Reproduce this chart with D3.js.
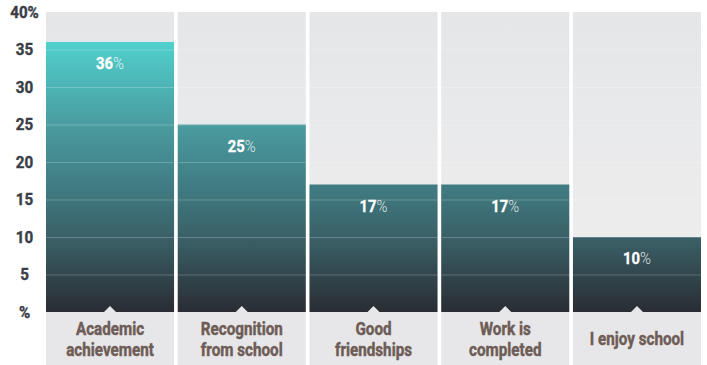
<!DOCTYPE html>
<html>
<head>
<meta charset="utf-8">
<script src="https://cdn.jsdelivr.net/npm/d3@7"></script>
<style>
  body { margin: 0; background: #fff; }
  text { font-family: "Roboto", sans-serif; }
</style>
</head>
<body>
<div id="chart"></div>
<script>
// Data
const categories = ["Academic achievement", "Recognition from school", "Good friendships", "Work is completed", "I enjoy school"];
const labelLines = [["Academic", "achievement"], ["Recognition", "from school"], ["Good", "friendships"], ["Work is", "completed"], ["I enjoy school"]];
const values = [36, 25, 17, 17, 10];
const tickValues = [0, 5, 10, 15, 20, 25, 30, 35, 40];

const chart = {
  width: 707,
  height: 365,
  margin: { top: 12, right: 6, bottom: 53, left: 46 }
};

// horizontal squeeze to imitate a condensed face
const squeeze = 0.87;

const svg = d3.select("#chart")
  .append("svg")
  .attr("width", chart.width)
  .attr("height", chart.height);

const bottomY = chart.height - chart.margin.bottom;

const x = d3.scaleBand()
  .domain(categories)
  .range([chart.margin.left, chart.width - chart.margin.right])
  .paddingInner(0.028)
  .paddingOuter(0);

const y = d3.scaleLinear()
  .domain([0, 40])
  .range([bottomY, chart.margin.top]);

// Gradients
const defs = svg.append("defs");

const barGrad = defs.append("linearGradient")
  .attr("id", "barGrad")
  .attr("gradientUnits", "userSpaceOnUse")
  .attr("x1", 0).attr("x2", 0)
  .attr("y1", y(36)).attr("y2", bottomY);
barGrad.append("stop").attr("offset", "0%").attr("stop-color", "#50d0cd");
barGrad.append("stop").attr("offset", "30%").attr("stop-color", "#4a9da0");
barGrad.append("stop").attr("offset", "55%").attr("stop-color", "#3f7a80");
barGrad.append("stop").attr("offset", "75%").attr("stop-color", "#395c63");
barGrad.append("stop").attr("offset", "100%").attr("stop-color", "#2a2c33");

const bgGrad = defs.append("linearGradient")
  .attr("id", "bgGrad")
  .attr("x1", 0).attr("x2", 0)
  .attr("y1", 0).attr("y2", 1);
bgGrad.append("stop").attr("offset", "0%").attr("stop-color", "#e5e6e8");
bgGrad.append("stop").attr("offset", "100%").attr("stop-color", "#efefef");

// Column backgrounds
svg.selectAll(".col-bg")
  .data(categories)
  .enter()
  .append("rect")
  .attr("class", "col-bg")
  .attr("x", d => x(d))
  .attr("y", y(40))
  .attr("width", x.bandwidth())
  .attr("height", bottomY - y(40))
  .attr("fill", "url(#bgGrad)");

// Bars
svg.selectAll(".bar")
  .data(values)
  .enter()
  .append("rect")
  .attr("class", "bar")
  .attr("x", (d, i) => x(categories[i]))
  .attr("y", d => y(d))
  .attr("width", x.bandwidth())
  .attr("height", d => bottomY - y(d))
  .attr("fill", "url(#barGrad)");

// Grid lines, drawn per column
categories.forEach(c => {
  svg.append("g")
    .selectAll("line")
    .data(tickValues.filter(t => t > 0 && t < 40))
    .enter()
    .append("line")
    .attr("x1", x(c))
    .attr("x2", x(c) + x.bandwidth())
    .attr("y1", t => y(t) + 0.5)
    .attr("y2", t => y(t) + 0.5)
    .attr("stroke", "#ffffff")
    .attr("stroke-opacity", 0.22)
    .attr("stroke-width", 1);
});

// Label boxes with notch
svg.selectAll(".label-box")
  .data(categories)
  .enter()
  .append("rect")
  .attr("class", "label-box")
  .attr("x", d => x(d))
  .attr("y", bottomY)
  .attr("width", x.bandwidth())
  .attr("height", chart.margin.bottom)
  .attr("fill", "#e7e7e9");

svg.selectAll(".notch")
  .data(categories)
  .enter()
  .append("path")
  .attr("class", "notch")
  .attr("d", d => {
    const cx = x(d) + x.bandwidth() / 2;
    return `M${cx - 6},${bottomY} L${cx},${bottomY - 6} L${cx + 6},${bottomY} Z`;
  })
  .attr("fill", "#e7e7e9");

// Category labels
const catLabels = svg.selectAll(".cat-label")
  .data(labelLines)
  .enter()
  .append("g")
  .attr("class", "cat-label")
  .attr("transform", (d, i) => `translate(${x(categories[i]) + x.bandwidth() / 2},0) scale(${squeeze},1)`)
  .append("text")
  .attr("text-anchor", "middle")
  .attr("font-size", "17.5px")
  .attr("font-weight", "bold")
  .attr("fill", "#6e5c56")
  .attr("stroke", "#6e5c56")
  .attr("stroke-width", 0.45);

catLabels.each(function(lines) {
  const startY = lines.length === 1 ? bottomY + 33 : bottomY + 23;
  d3.select(this).selectAll("tspan")
    .data(lines)
    .enter()
    .append("tspan")
    .attr("x", 0)
    .attr("y", (l, j) => startY + j * 21.5)
    .text(l => l);
});

// Value labels
const valLabels = svg.selectAll(".val-label")
  .data(values)
  .enter()
  .append("g")
  .attr("class", "val-label")
  .attr("transform", (d, i) => `translate(${x(categories[i]) + x.bandwidth() / 2},${y(d) + 27}) scale(${squeeze},1)`)
  .append("text")
  .attr("text-anchor", "middle")
  .attr("font-size", "17px")
  .attr("fill", "#ffffff");

valLabels.append("tspan")
  .attr("font-weight", "bold")
  .attr("stroke", "#ffffff")
  .attr("stroke-width", 0.3)
  .text(d => d);
valLabels.append("tspan")
  .attr("font-weight", "300")
  .attr("fill-opacity", 0.85)
  .text("%");

// Y axis labels
svg.append("g")
  .selectAll("g")
  .data(tickValues)
  .enter()
  .append("g")
  .attr("transform", d => `translate(24.5,${y(d)}) scale(0.92,1)`)
  .append("text")
  .attr("dy", "0.36em")
  .attr("text-anchor", "middle")
  .attr("font-size", "16.5px")
  .attr("font-weight", "bold")
  .attr("fill", "#3a3e47")
  .attr("stroke", "#3a3e47")
  .attr("stroke-width", 0.4)
  .text(d => d === 0 ? "%" : (d === 40 ? "40%" : d));
</script>
</body>
</html>
